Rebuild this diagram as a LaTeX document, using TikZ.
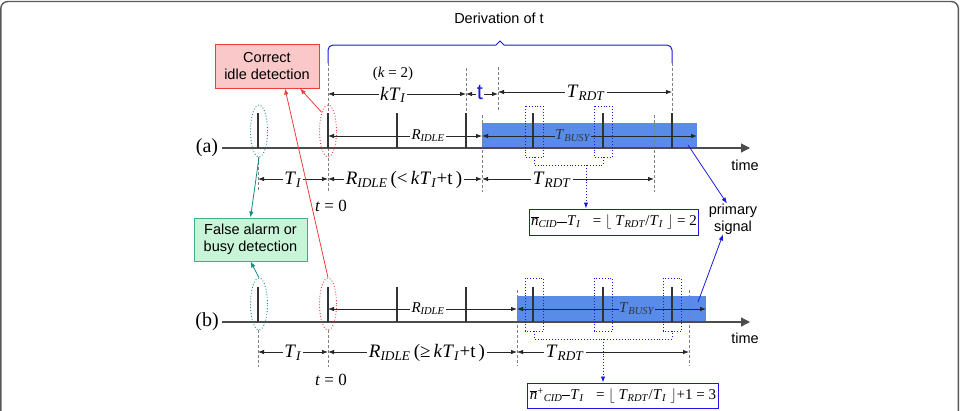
\documentclass[tikz,border=0pt]{standalone}
\usepackage{fontspec}
\setmainfont{Liberation Serif}
\newfontfamily\arialf{Liberation Sans}
\usetikzlibrary{arrows.meta,shapes.geometric}
\definecolor{busyblue}{RGB}{88,140,232}
\definecolor{myblue}{RGB}{25,25,225}
\definecolor{myred}{RGB}{240,60,60}
\definecolor{pinkfill}{RGB}{250,200,200}
\definecolor{greenfill}{RGB}{200,245,215}
\definecolor{tealc}{RGB}{20,140,130}
\definecolor{greenborder}{RGB}{60,175,140}
\newcommand{\vit}[2]{\textit{#1}\textsubscript{\textit{#2}}}
\newcommand{\nbar}{$\overline{\mbox{\textit{n}}}$}
\begin{document}
\begin{tikzpicture}[x=1pt,y=-1pt,
  dim/.style={{Latex[length=6pt,width=4.5pt]}-{Latex[length=6pt,width=4.5pt]}, line width=0.8pt, black!85},
  ticky/.style={line width=1.8pt, black!80},
  timeline/.style={line width=1.2pt, black!70, -{Triangle[length=9pt,width=9pt]}},
  vdash/.style={gray, line width=0.8pt, dash pattern=on 3pt off 2pt},
  biglbl/.style={font=\fontsize{19}{19}\selectfont, fill=white, inner sep=1.5pt},
  smlbl/.style={font=\fontsize{15}{15}\selectfont, fill=white, inner sep=1.5pt},
  busylbl/.style={font=\fontsize{15}{15}\selectfont, fill=busyblue, inner sep=0.5pt, text=black!80},
  sanslbl/.style={font=\arialf\fontsize{14.5}{17}\selectfont, align=center, inner sep=0pt},
  elg/.style={draw=tealc, dotted, line width=0.9pt, ellipse, minimum width=17pt, minimum height=52pt, inner sep=0pt},
  elr/.style={draw=myred, dotted, line width=0.9pt, ellipse, minimum width=17pt, minimum height=52pt, inner sep=0pt},
  dotbox/.style={draw=myblue, dotted, line width=0.9pt},
  dotline/.style={myblue, dotted, line width=0.9pt},
  fbox/.style={draw=myblue, line width=1pt, fill=white, font=\fontsize{15}{15}\selectfont, inner sep=2pt},
  redarr/.style={myred, line width=0.8pt, -{Latex[length=6pt,width=4.5pt]}},
  tealarr/.style={tealc, line width=0.8pt, -{Latex[length=6pt,width=4.5pt]}},
  bluearr/.style={myblue, line width=0.8pt, -{Latex[length=6pt,width=4.5pt]}},
  dotarr/.style={myblue, dotted, line width=0.9pt, -{Latex[length=6pt,width=4.5pt]}}
]
\useasboundingbox (0,0) rectangle (961,410);
\draw[black!65, line width=1.4pt, rounded corners=7pt] (0.8,1.5) rectangle (958.3,440);

% brace
\draw[myblue, line width=1pt, rounded corners=5pt] (328,63) -- (328,45) -- (496,45);
\draw[myblue, line width=1pt] (496,45) -- (500,41) -- (504,45);
\draw[myblue, line width=1pt, rounded corners=5pt] (504,45) -- (672,45) -- (672,63);
\node[sanslbl] (deriv) at (499,18) {Derivation of t};

% busy rectangles
\fill[busyblue] (482,123) rectangle (697,148);
\fill[busyblue] (517,296) rectangle (706,321);

% dashed verticals (a)
\draw[vdash] (258,157) -- (258,192);
\draw[vdash] (328,63) -- (328,192);
\draw[vdash] (466,68) -- (466,113);
\draw[vdash] (498,67) -- (498,110);
\draw[vdash] (672,63) -- (672,113);
\draw[vdash] (482,115) -- (482,192);
\draw[vdash] (654,115) -- (654,192);
% dashed verticals (b)
\draw[vdash] (258,330) -- (258,367);
\draw[vdash] (328,330) -- (328,367);
\draw[vdash] (517,290) -- (517,366);
\draw[vdash] (689,290) -- (689,366);

% timelines
\coordinate (ta0) at (222,148); \coordinate (ta1) at (750,148);
\coordinate (tb0) at (222,322); \coordinate (tb1) at (750,322);
\draw[timeline] (ta0) -- (ta1);
\draw[timeline] (tb0) -- (tb1);
\node[font=\fontsize{20}{20}\selectfont] (la) at (207,148) {(a)};
\node[font=\fontsize{20}{20}\selectfont] (lb) at (207,322) {(b)};
\node[sanslbl] (timea) at (745,165) {time};
\node[sanslbl] (timeb) at (745,338) {time};

% ticks
\foreach \x in {258,328,397,466,533,603,672} {
  \draw[ticky] (\x,113) -- (\x,148);
  \draw[ticky] (\x,287) -- (\x,322);
}

% top dimension row
\draw[dim] (328,94) -- (466,94);
\node[font=\fontsize{15}{15}\selectfont] (kk) at (393,74) {(\textit{k} = 2)};
\node[biglbl] (kti) at (393,95) {\textit{k}\vit{T}{I}};
\draw[dim] (466,94) -- (498,94);
\node[font=\arialf\fontsize{22}{22}\selectfont, text=myblue, fill=white, inner sep=0.5pt] (tau) at (480,92) {t};
\draw[dim] (498,92) -- (672,92);
\node[biglbl] (trdt0) at (586,93) {\vit{T}{RDT}};

% (a) inner row
\draw[dim] (328,136) -- (482,136);
\node[smlbl] (ria) at (428,136) {\vit{R}{IDLE}};
\draw[dim] (482,136) -- (697,136);
\node[busylbl] (tba) at (573,136) {\vit{T}{BUSY}};

% (a) lower row
\draw[dim] (258,179) -- (328,179);
\node[biglbl] (tia) at (293,180) {\vit{T}{I}};
\draw[dim] (328,179) -- (482,179);
\node[biglbl] (rila) at (404,180) {\vit{R}{IDLE}\,(<\,\textit{k}\vit{T}{I}+t\,)};
\draw[dim] (482,179) -- (654,179);
\node[biglbl] (trdta) at (552,180) {\vit{T}{RDT}};
\node[font=\fontsize{17}{17}\selectfont] (t0a) at (331,206) {\textit{t} = 0};

% (b) inner row
\draw[dim] (328,309) -- (517,309);
\node[smlbl] (rib) at (428,309) {\vit{R}{IDLE}};
\draw[dim] (517,309) -- (706,309);
\node[busylbl] (tbb) at (637,309) {\vit{T}{BUSY}};

% (b) lower row
\draw[dim] (258,352) -- (328,352);
\node[biglbl] (tib) at (293,353) {\vit{T}{I}};
\draw[dim] (328,352) -- (517,352);
\node[biglbl] (rilb) at (427,353) {\vit{R}{IDLE}\,(≥\,\textit{k}\vit{T}{I}+t\,)};
\draw[dim] (517,352) -- (689,352);
\node[biglbl] (trdtb) at (565,353) {\vit{T}{RDT}};
\node[font=\fontsize{17}{17}\selectfont] (t0b) at (331,380) {\textit{t} = 0};

% ellipses
\node[elg] (ga) at (259,131) {};
\node[elr] (ra) at (328,131) {};
\node[elg] (gb) at (259,304) {};
\node[elr] (rb) at (328,304) {};

% dotted boxes (a)
\draw[dotbox] (525,106) rectangle (543,157);
\draw[dotbox] (594,106) rectangle (612,157);
\draw[dotline] (534,157) -- (534,165) -- (603,165) -- (603,157);
\coordinate (brA) at (586,165);
% dotted boxes (b)
\draw[dotbox] (525,278) rectangle (543,331);
\draw[dotbox] (594,278) rectangle (612,331);
\draw[dotbox] (663,278) rectangle (681,331);
\draw[dotline] (534,331) -- (534,339) -- (672,339) -- (672,331);
\coordinate (brB) at (603,339);

% formula boxes
\node[fbox, minimum width=156pt, minimum height=26pt] (fa) at (614,222)
  {\nbar\textsubscript{\textit{CID}}\rule[0.5ex]{10pt}{0.5pt}\vit{T}{I}\;\; = $\lfloor$ \vit{T}{RDT}/\vit{T}{I} $\rfloor$ = 2};
\node[fbox, minimum width=174pt, minimum height=25pt] (fb) at (623,395.5)
  {\nbar\textsuperscript{+}\textsubscript{\textit{CID}}\rule[0.5ex]{8pt}{0.5pt}\vit{T}{I}\;\; = $\lfloor$ \vit{T}{RDT}/\vit{T}{I} $\rfloor${+}1 = 3};
\draw[dotarr] (brA) -- (brA |- fa.north);
\draw[dotarr] (brB) -- (brB |- fb.north);

% annotation boxes
\node[draw=myred, line width=1pt, fill=pinkfill, minimum width=104pt, minimum height=44pt, sanslbl] (idle) at (267,66) {Correct\\idle detection};
\node[draw=greenborder, line width=1pt, fill=greenfill, minimum width=113pt, minimum height=43pt, sanslbl] (falsebox) at (250.5,239.5) {False alarm or\\busy detection};
\node[sanslbl] (prim) at (733,219) {primary\\signal};

% connectors
\draw[tealarr] (ga.south) -- (falsebox.north);
\draw[tealarr] (gb.north) -- (falsebox.south);
\draw[redarr] (ra.north west) -- ([xshift=33pt]idle.south);
\draw[redarr] (rb.north) -- ([xshift=18pt]idle.south);
\coordinate (pa) at (688,145);
\coordinate (pb) at (698,302);
\draw[bluearr] (pa) -- ([xshift=-6pt]prim.north);
\draw[bluearr] (pb) -- ([xshift=-10pt]prim.south);
\end{tikzpicture}
\end{document}
